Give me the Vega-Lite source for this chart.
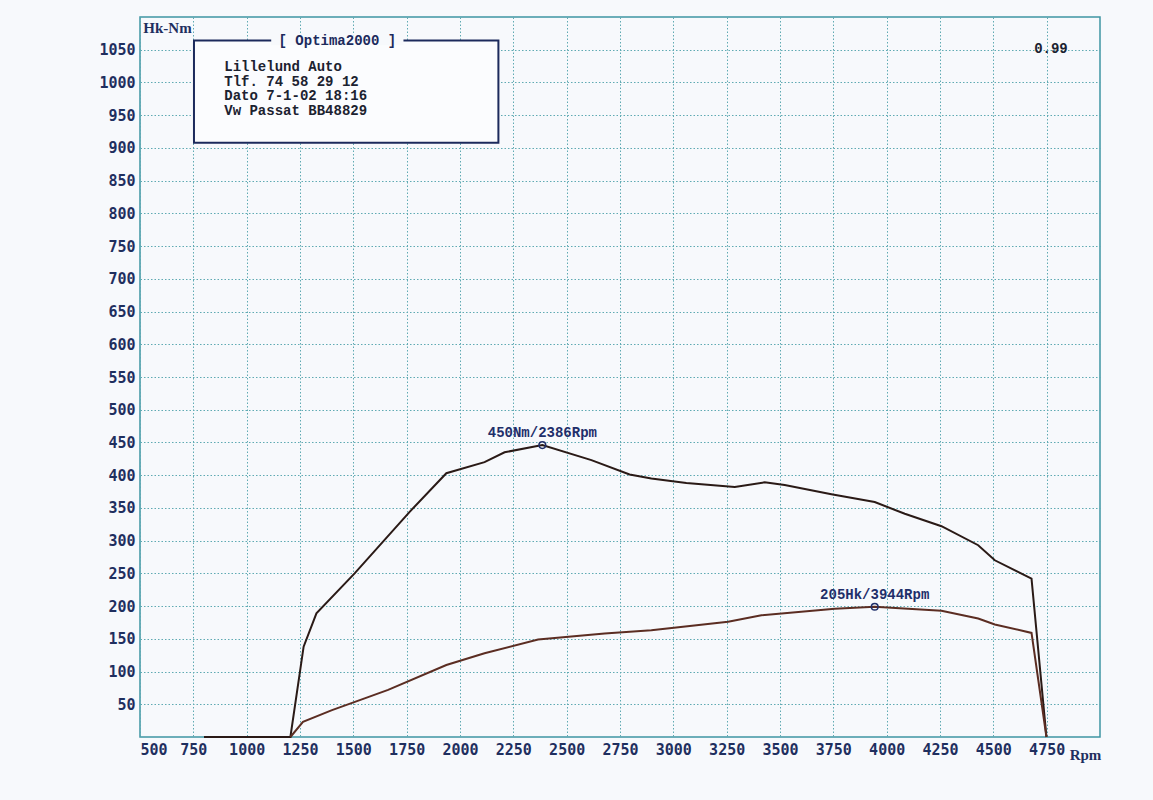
{
  "$schema": "https://vega.github.io/schema/vega-lite/v6.json",
  "width": 960,
  "height": 720,
  "autosize": "none",
  "padding": {"left": 140, "top": 17, "right": 53, "bottom": 63},
  "background": "#f7f9fc",
  "config": {
    "view": {"stroke": "#3f95a3", "strokeWidth": 1.5},
    "axis": {
      "grid": true,
      "gridDash": [1.5, 2],
      "gridColor": "#5faab3",
      "gridWidth": 1,
      "domain": false,
      "ticks": false,
      "format": "d",
      "labelFont": "DejaVu Sans Mono",
      "labelFontWeight": "bold",
      "labelFontSize": 15,
      "labelColor": "#1f2f5f",
      "labelPadding": 5,
      "titleFont": "Liberation Serif",
      "titleFontWeight": "bold",
      "titleFontSize": 15,
      "titleColor": "#1f2f5f"
    }
  },
  "datasets": {
    "curves": [
      {"rpm": 800, "value": 0, "series": "Torque"},
      {"rpm": 1205, "value": 0, "series": "Torque"},
      {"rpm": 1267, "value": 138, "series": "Torque"},
      {"rpm": 1327, "value": 189, "series": "Torque"},
      {"rpm": 1506, "value": 250, "series": "Torque"},
      {"rpm": 1764, "value": 344, "series": "Torque"},
      {"rpm": 1936, "value": 403, "series": "Torque"},
      {"rpm": 2115, "value": 420, "series": "Torque"},
      {"rpm": 2209, "value": 435, "series": "Torque"},
      {"rpm": 2386, "value": 446, "series": "Torque"},
      {"rpm": 2616, "value": 423, "series": "Torque"},
      {"rpm": 2795, "value": 401, "series": "Torque"},
      {"rpm": 2897, "value": 395, "series": "Torque"},
      {"rpm": 3061, "value": 388, "series": "Torque"},
      {"rpm": 3288, "value": 382, "series": "Torque"},
      {"rpm": 3428, "value": 389, "series": "Torque"},
      {"rpm": 3522, "value": 385, "series": "Torque"},
      {"rpm": 3741, "value": 371, "series": "Torque"},
      {"rpm": 3944, "value": 359, "series": "Torque"},
      {"rpm": 4085, "value": 341, "series": "Torque"},
      {"rpm": 4257, "value": 322, "series": "Torque"},
      {"rpm": 4429, "value": 293, "series": "Torque"},
      {"rpm": 4507, "value": 270, "series": "Torque"},
      {"rpm": 4679, "value": 242, "series": "Torque"},
      {"rpm": 4749, "value": 0, "series": "Torque"},
      {"rpm": 1205, "value": 0, "series": "Power"},
      {"rpm": 1264, "value": 23, "series": "Power"},
      {"rpm": 1400, "value": 41, "series": "Power"},
      {"rpm": 1553, "value": 59, "series": "Power"},
      {"rpm": 1663, "value": 72, "series": "Power"},
      {"rpm": 1936, "value": 110, "series": "Power"},
      {"rpm": 2115, "value": 128, "series": "Power"},
      {"rpm": 2366, "value": 149, "series": "Power"},
      {"rpm": 2678, "value": 158, "series": "Power"},
      {"rpm": 2897, "value": 163, "series": "Power"},
      {"rpm": 3257, "value": 176, "series": "Power"},
      {"rpm": 3413, "value": 186, "series": "Power"},
      {"rpm": 3757, "value": 196, "series": "Power"},
      {"rpm": 3944, "value": 199, "series": "Power"},
      {"rpm": 4257, "value": 193, "series": "Power"},
      {"rpm": 4429, "value": 181, "series": "Power"},
      {"rpm": 4507, "value": 172, "series": "Power"},
      {"rpm": 4679, "value": 159, "series": "Power"},
      {"rpm": 4749, "value": 0, "series": "Power"}
    ],
    "peaks": [
      {"rpm": 2386, "value": 446, "label": "450Nm/2386Rpm"},
      {"rpm": 3944, "value": 199, "label": "205Hk/3944Rpm"}
    ],
    "one": [{}]
  },
  "layer": [
    {
      "data": {"name": "curves"},
      "mark": {"type": "line", "strokeWidth": 2},
      "encoding": {
        "x": {
          "field": "rpm", "type": "quantitative",
          "scale": {"domain": [500, 5000], "nice": false, "zero": false},
          "axis": {
            "values": [500, 750, 1000, 1250, 1500, 1750, 2000, 2250, 2500, 2750, 3000, 3250, 3500, 3750, 4000, 4250, 4500, 4750],
            "tickCount": 40,
            "labelOverlap": false,
            "title": "Rpm", "titleX": 945, "titleY": 17, "titleAlign": "center", "titleBaseline": "middle"
          }
        },
        "y": {
          "field": "value", "type": "quantitative",
          "scale": {"domain": [0, 1100], "nice": false},
          "axis": {
            "values": [50, 100, 150, 200, 250, 300, 350, 400, 450, 500, 550, 600, 650, 700, 750, 800, 850, 900, 950, 1000, 1050],
            "tickCount": 40,
            "labelOverlap": false,
            "title": "Hk-Nm", "titleAngle": 0, "titleX": 27, "titleY": 10, "titleAlign": "center", "titleBaseline": "middle"
          }
        },
        "color": {
          "field": "series", "type": "nominal",
          "scale": {"domain": ["Torque", "Power"], "range": ["#2a1a16", "#5b2d22"]},
          "legend": null
        }
      }
    },
    {
      "data": {"name": "one"},
      "mark": {"type": "rect", "fill": "#fbfcfe", "stroke": "#1c2a5c", "strokeWidth": 2},
      "encoding": {
        "x": {"datum": 753, "type": "quantitative"},
        "x2": {"datum": 2180},
        "y": {"datum": 1064, "type": "quantitative"},
        "y2": {"datum": 908}
      }
    },
    {
      "data": {"name": "one"},
      "mark": {"type": "rect", "fill": "#f7f9fc"},
      "encoding": {
        "x": {"datum": 1115, "type": "quantitative"},
        "x2": {"datum": 1735},
        "y": {"datum": 1072, "type": "quantitative"},
        "y2": {"datum": 1057}
      }
    },
    {
      "data": {"name": "one"},
      "mark": {"type": "text", "text": "[ Optima2000 ]", "font": "Liberation Mono", "fontWeight": "bold", "fontSize": 14, "color": "#1c2a5c", "align": "center", "baseline": "middle"},
      "encoding": {
        "x": {"datum": 1425, "type": "quantitative"},
        "y": {"datum": 1064, "type": "quantitative"}
      }
    },
    {
      "data": {"name": "one"},
      "mark": {"type": "text", "text": ["Lillelund Auto", "Tlf. 74 58 29 12", "Dato 7-1-02  18:16", "Vw Passat BB48829"], "font": "Liberation Mono", "fontWeight": "bold", "fontSize": 14, "lineHeight": 14.5, "color": "#1c2230", "align": "left", "baseline": "middle"},
      "encoding": {
        "x": {"datum": 895, "type": "quantitative"},
        "y": {"datum": 1023, "type": "quantitative"}
      }
    },
    {
      "data": {"name": "one"},
      "mark": {"type": "text", "text": "0.99", "font": "Liberation Mono", "fontWeight": "bold", "fontSize": 14, "color": "#1c2230", "align": "center", "baseline": "middle"},
      "encoding": {
        "x": {"datum": 4770, "type": "quantitative"},
        "y": {"datum": 1051, "type": "quantitative"}
      }
    },
    {
      "data": {"name": "peaks"},
      "mark": {"type": "point", "shape": "circle", "filled": false, "size": 45, "stroke": "#1f2f6a", "strokeWidth": 1.5, "opacity": 1},
      "encoding": {
        "x": {"field": "rpm", "type": "quantitative"},
        "y": {"field": "value", "type": "quantitative"}
      }
    },
    {
      "data": {"name": "peaks"},
      "mark": {"type": "text", "font": "Liberation Mono", "fontWeight": "bold", "fontSize": 14, "color": "#1f2f6a", "align": "center", "baseline": "alphabetic", "dy": -8},
      "encoding": {
        "x": {"field": "rpm", "type": "quantitative"},
        "y": {"field": "value", "type": "quantitative"},
        "text": {"field": "label"}
      }
    }
  ]
}
